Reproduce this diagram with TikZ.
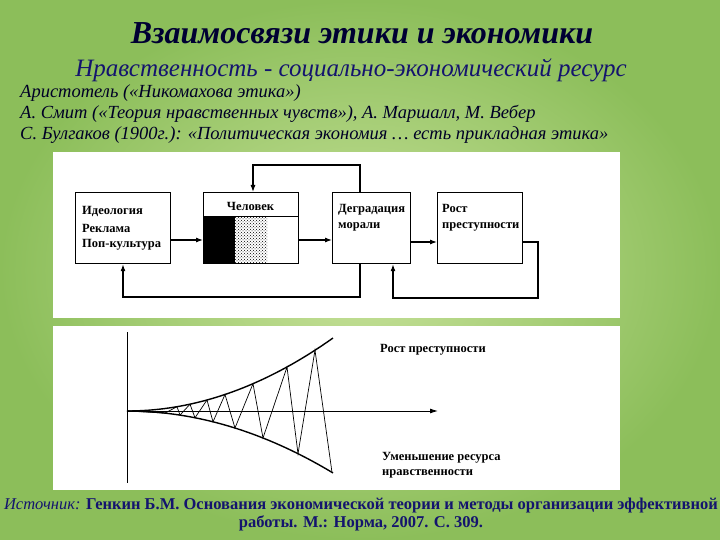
\documentclass[tikz,border=0pt]{standalone}
\usepackage{fontspec}
\setmainfont{Liberation Serif}
\usetikzlibrary{arrows.meta,patterns}
\definecolor{navy}{RGB}{20,20,110}
\tikzset{
 blk/.style={draw=black,line width=1.2pt},
 lbl/.style={anchor=west,inner sep=0pt,font=\bfseries\fontsize{12.5}{14}\selectfont,align=left},
 conn/.style={line width=1.1pt,-{Latex[length=7pt,width=5pt]}},
 ln/.style={anchor=west,inner sep=0pt,font=\itshape\fontsize{18.5}{20}\selectfont,text=black!85!blue}
}
\begin{document}
\begin{tikzpicture}[x=1pt,y=-1pt]
\useasboundingbox (0,0) rectangle (720,540);
\shade[inner color={rgb,255:red,200;green,226;blue,155},outer color={rgb,255:red,140;green,190;blue,90}] (0,0) rectangle (720,540);
\node[font=\bfseries\itshape\fontsize{32}{34}\selectfont,text=black!80!blue] (t) at (362,33) {Взаимосвязи этики и экономики};
\node[font=\itshape\fontsize{25}{27}\selectfont,text=navy] (s) at (351,70) {Нравственность - социально-экономический ресурс};
\node[ln] (l1) at (20,93) {Аристотель («Никомахова этика»)};
\node[ln] (l2) at (20,114) {А. Смит («Теория нравственных чувств»), А. Маршалл, М. Вебер};
\node[ln] (l3) at (20,135) {С. Булгаков (1900г.): «Политическая экономия … есть прикладная этика»};
% panels
\fill[white] (53,152) rectangle (620,318);
\fill[white] (53,326) rectangle (620,490);
% boxes
\node[blk,minimum width=95pt,minimum height=71pt,anchor=north west] (b1) at (75,192) {};
\node[lbl] at (82,211) {Идеология};
\node[lbl] at (82,228) {Реклама};
\node[lbl] at (82,245) {Поп-культура};
\fill[black] (203,217) rectangle (235,263);
\fill[pattern=crosshatch dots,pattern color=black] (235,217) rectangle (267,263);
\node[blk,minimum width=95pt,minimum height=71pt,anchor=north west] (b2) at (203,192) {};
\draw[line width=1pt] (203,217) -- (298,217);
\node[font=\bfseries\fontsize{12.5}{14}\selectfont] (hc) at (250.5,206) {Человек};
\node[blk,minimum width=78pt,minimum height=71pt,anchor=north west] (b3) at (332,192) {};
\node[lbl] at (338,218) {Деградация\\[2pt]морали};
\node[blk,minimum width=85pt,minimum height=71pt,anchor=north west] (b4) at (437,192) {};
\node[lbl] at (442,218) {Рост\\[2pt]преступности};
\coordinate (c1) at (360,165);
\coordinate (c2) at (253,165);
\coordinate (c3) at (360,297);
\coordinate (c4) at (123,297);
\coordinate (c5) at (538,242);
\coordinate (c6) at (538,298);
\coordinate (c7) at (393,298);
\draw[conn] (b1.east|-0,240) -- (b2.west|-0,240);
\draw[conn] (b2.east|-0,240) -- (b3.west|-0,240);
\draw[conn] (b3.east|-0,242) -- (b4.west|-0,242);
\draw[conn] (b3.north-|c1) -- (c1) -- (c2) -- (b2.north-|c2);
\draw[conn] (b3.south-|c3) -- (c3) -- (c4) -- (b1.south-|c4);
\draw[conn] (b4.east|-c5) -- (c5) -- (c6) -- (c7) -- (b3.south-|c7);
% graph
\coordinate (o) at (127,411);
\coordinate (yt) at (127,332);
\coordinate (yb) at (127,483);
\coordinate (xe) at (438,411);
\draw[line width=0.9pt] (yt) -- (yb);
\draw[line width=0.9pt,-{Latex[length=8pt,width=5pt]}] (o) -- (xe);
\draw[line width=1.4pt] plot[domain=0:206,samples=40] ({\x+127},{411-17.2*(\x/100)^2});
\draw[line width=1.4pt] plot[domain=0:206,samples=40] ({\x+127},{411+14.6*(\x/100)^2});
\draw[line width=0.7pt] (o) -- (165,413.1) -- (177,406.7) -- (180,415.1) -- (190,404.2) -- (195,417.8) -- (207,400) -- (213,421.8) -- (225,394.5) -- (235,428) -- (253,383.7) -- (263,438) -- (287,367) -- (298,453.7) -- (315,350.2) -- (332,472.4);
\node[lbl,font=\bfseries\fontsize{12.5}{14}\selectfont] (g1) at (380,350) {Рост преступности};
\node[lbl,font=\bfseries\fontsize{12.5}{14}\selectfont] (g2) at (382,465) {Уменьшение ресурса\\[1pt]нравственности};
% footer
\node[font=\fontsize{16.5}{18}\selectfont,text=navy,align=center,inner sep=0pt] (f) at (361,515) {\textit{Источник:} \textbf{Генкин Б.М. Основания экономической теории и методы организации эффективной}\\\textbf{работы. М.: Норма, 2007. С. 309.}};
\end{tikzpicture}
\end{document}
